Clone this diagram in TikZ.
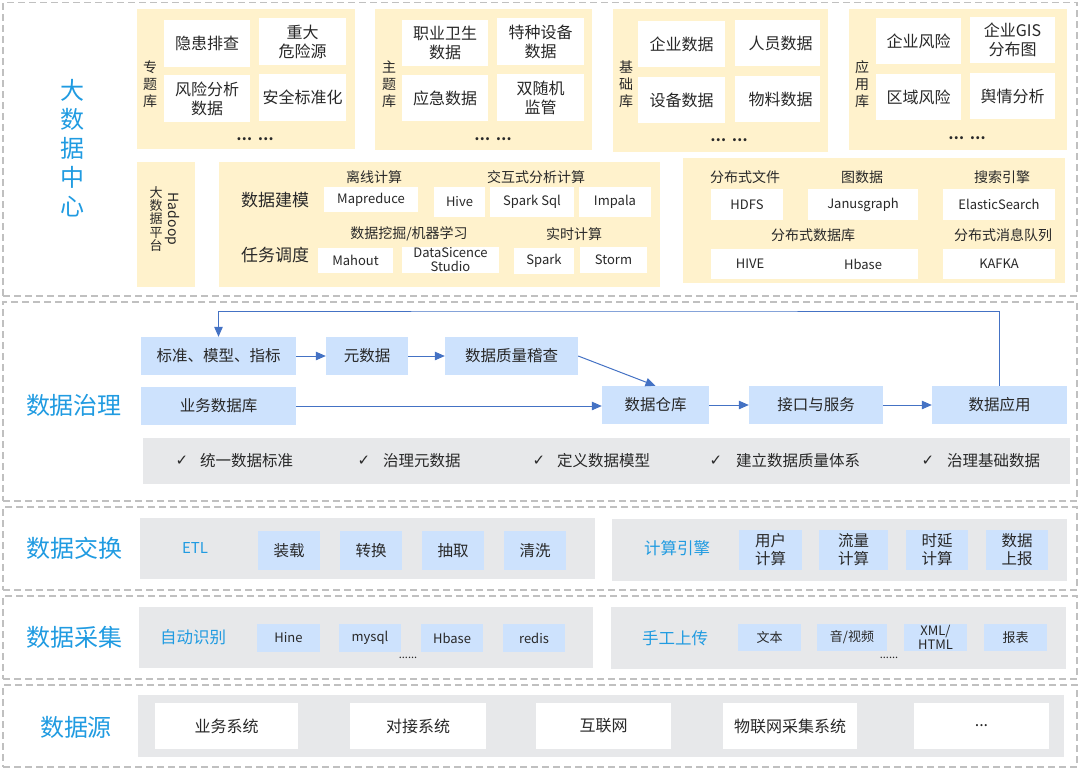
\documentclass[tikz,border=0pt]{standalone}
\usepackage{fontspec}
\setmainfont{Noto Sans CJK SC}
\newfontfamily\symfont{DejaVu Sans}
\usetikzlibrary{arrows.meta}

\definecolor{titleblue}{RGB}{32,155,225}
\definecolor{panelyellow}{RGB}{255,242,204}
\definecolor{panelgray}{RGB}{231,232,234}
\definecolor{boxblue}{RGB}{205,226,253}
\definecolor{arrowblue}{RGB}{68,114,196}
\definecolor{dashgray}{RGB}{192,192,192}
\definecolor{textdark}{RGB}{40,40,40}

\newcommand\fs[2]{\fontsize{#1}{#2}\selectfont}
% box by corners: name, style, x1, y1, x2, y2, text
\newcommand\bx[7]{\node[#2, minimum width={(#5-#3)*1pt}, minimum height={(#6-#4)*1pt}] (#1) at ({(#3+#5)/2},{(#4+#6)/2}) {#7};}

\tikzset{
  layerframe/.style={draw=dashgray, line width=1.2pt, dash pattern=on 7pt off 4pt, inner sep=0pt},
  yel/.style={fill=panelyellow, inner sep=0pt},
  gry/.style={fill=panelgray, inner sep=0pt},
  wbox/.style={fill=white, inner sep=0pt, align=center, text=textdark, font=\fs{16}{19}},
  sbox/.style={fill=white, inner sep=0pt, align=center, text=textdark, font=\fs{13}{14}},
  bbox/.style={fill=boxblue, inner sep=0pt, align=center, text=textdark, font=\fs{15.5}{18}},
  sbbox/.style={fill=boxblue, inner sep=0pt, align=center, text=textdark, font=\fs{13}{14}},
  lbl/.style={inner sep=0pt, align=center, text=textdark, font=\fs{14}{17}},
  midlbl/.style={inner sep=0pt, align=center, text=textdark, font=\fs{17}{19}},
  layer/.style={inner sep=0pt, align=center, text=titleblue, font=\fs{24}{29}},
  sublayer/.style={inner sep=0pt, align=center, text=titleblue, font=\fs{16.5}{19}},
  chk/.style={inner sep=0pt, text=textdark, font=\symfont\fs{15}{16}},
  chktext/.style={inner sep=0pt, anchor=west, text=textdark, font=\fs{15.5}{18}},
  dots/.style={inner sep=0pt, text=textdark, font=\bfseries\fs{14}{16}},
  flow/.style={draw=arrowblue, line width=1pt, -{Triangle[length=10pt,width=8.5pt]}},
}

\begin{document}
\begin{tikzpicture}[x=1pt,y=-1pt]
\useasboundingbox (0,0) rectangle (1080,769);

% ---------- layer frames ----------
\bx{fTop}{layerframe}{3}{2.5}{1077}{296}{}
\bx{fGov}{layerframe}{3}{302}{1077}{501}{}
\bx{fExc}{layerframe}{3}{507}{1077}{590}{}
\bx{fCol}{layerframe}{3}{596}{1077}{679}{}
\bx{fSrc}{layerframe}{3}{685}{1077}{767}{}

% ---------- big data centre ----------
\node[layer] (tBig) at (72,148) {大\\数\\据\\中\\心};

% topic library
\bx{pA}{yel}{137}{9}{355}{149}{}
\node[lbl] (lA) at (150,84) {专\\题\\库};
\bx{a1}{wbox}{164}{20}{250}{67}{隐患排查}
\bx{a2}{wbox}{259}{18}{346}{65}{重大\\危险源}
\bx{a3}{wbox}{164}{75}{250}{122}{风险分析\\数据}
\bx{a4}{wbox}{259}{74}{346}{121}{安全标准化}
\node[dots] (dA) at (255,139) {…\hspace{6pt}…};

% subject library
\bx{pB}{yel}{375}{9}{592}{150}{}
\node[lbl] (lB) at (389,84) {主\\题\\库};
\bx{b1}{wbox}{402}{20}{488}{66}{职业卫生\\数据}
\bx{b2}{wbox}{497}{18}{584}{65}{特种设备\\数据}
\bx{b3}{wbox}{402}{75}{488}{121}{应急数据}
\bx{b4}{wbox}{497}{74}{584}{121}{双随机\\监管}
\node[dots] (dB) at (493,139) {…\hspace{6pt}…};

% base library
\bx{pC}{yel}{613}{9}{828}{152}{}
\node[lbl] (lC) at (626,84) {基\\础\\库};
\bx{c1}{wbox}{638}{21}{725}{67}{企业数据}
\bx{c2}{wbox}{735}{20}{820}{66}{\hspace*{6pt}人员数据}
\bx{c3}{wbox}{638}{77}{725}{123}{设备数据}
\bx{c4}{wbox}{735}{76}{820}{122}{\hspace*{6pt}物料数据}
\node[dots] (dC) at (729,140) {…\hspace{6pt}…};

% application library
\bx{pD}{yel}{849}{9}{1067}{150}{}
\node[lbl] (lD) at (862,84) {应\\用\\库};
\bx{d1}{wbox}{876}{18}{961}{64}{企业风险}
\bx{d2}{wbox}{970}{17}{1055}{63}{企业GIS\\分布图}
\bx{d3}{wbox}{876}{74}{961}{120}{区域风险}
\bx{d4}{wbox}{970}{73}{1055}{119}{舆情分析}
\node[dots] (dD) at (967,138) {…\hspace{6pt}…};

% Hadoop platform
\bx{pH}{yel}{137}{162}{195}{287}{}
\node[inner sep=0pt, align=center, text=textdark, font=\fs{13}{13.2}] (lH1) at (156,219) {大\\数\\据\\平\\台};
\node[inner sep=0pt, rotate=-90, text=textdark, font=\fs{14}{16}] (lH2) at (172,219) {Hadoop};

% computing panel
\bx{pE}{yel}{219}{162}{660}{287}{}
\node[midlbl] (mModel) at (275,200) {数据建模};
\node[midlbl] (mSched) at (275,255) {任务调度};
\node[lbl] (gOff) at (374,177) {离线计算};
\node[lbl] (gInt) at (536,177) {交互式分析计算};
\node[lbl] (gMine) at (409,234) {数据挖掘/机器学习};
\node[lbl] (gRt) at (574,234) {实时计算};
\bx{e1}{sbox}{324}{187}{418}{212}{Mapreduce}
\bx{e2}{sbox}{434}{187}{485}{217}{Hive}
\bx{e3}{sbox}{490}{187}{574}{217}{Spark Sql}
\bx{e4}{sbox}{579}{187}{651}{217}{Impala}
\bx{e5}{sbox}{318}{248}{393}{273}{Mahout}
\bx{e6}{sbox}{402}{247}{499}{273}{DataSicence\\Studio}
\bx{e7}{sbox}{514}{248}{574}{274}{Spark}
\bx{e8}{sbox}{580}{247}{647}{273}{Storm}

% storage panel
\bx{pF}{yel}{683}{158}{1065}{283}{}
\node[lbl] (gFile) at (745,177) {分布式文件};
\node[lbl] (gGraph) at (862,177) {图数据};
\node[lbl] (gSearch) at (1002,177) {搜索引擎};
\node[lbl] (gDb) at (813,235) {分布式数据库};
\node[lbl] (gMq) at (1003,235) {分布式消息队列};
\bx{f1}{sbox}{711}{189}{783}{220}{HDFS}
\bx{f2}{sbox}{808}{189}{918}{220}{Janusgraph}
\bx{f3}{sbox}{943}{189}{1055}{220}{ElasticSearch}
\bx{f4}{sbox}{711}{249}{918}{279}{}
\node[inner sep=0pt, text=textdark, font=\fs{13}{14}] (f4a) at (750,264) {HIVE};
\node[inner sep=0pt, text=textdark, font=\fs{13}{14}] (f4b) at (863,264) {Hbase};
\bx{f5}{sbox}{943}{249}{1055}{279}{KAFKA}

% ---------- data governance ----------
\node[layer] (tGov) at (74,405) {数据治理};
\bx{std}{bbox}{141}{337}{296}{375}{标准、模型、指标}
\bx{meta}{bbox}{326}{337}{408}{375}{元数据}
\bx{qual}{bbox}{445}{337}{578}{375}{数据质量稽查}
\bx{biz}{bbox}{141}{387}{296}{425}{业务数据库}
\bx{wh}{bbox}{602}{386}{709}{424}{数据仓库}
\bx{api}{bbox}{749}{386}{883}{424}{接口与服务}
\bx{app}{bbox}{932}{386}{1067}{424}{数据应用}

\draw[flow] (std.east) -- (meta.west);
\draw[flow] (meta.east) -- (qual.west);
\draw[flow] (qual.east) -- (wh.north);
\draw[flow] (biz.east) -- (biz.east -| wh.west);
\draw[flow] (wh.east) -- (api.west);
\draw[flow] (api.east) -- (app.west);
\coordinate (fbTop) at (600,311);
\draw[flow] (app.north) |- (fbTop) -| (std.north);

\bx{gBand}{gry}{143}{438}{1070}{484}{}
\node[chk] (ck1) at (182,461) {✓};
\node[chktext] (ct1) at (200,461) {统一数据标准};
\node[chk] (ck2) at (364,461) {✓};
\node[chktext] (ct2) at (383,461) {治理元数据};
\node[chk] (ck3) at (539,461) {✓};
\node[chktext] (ct3) at (557,461) {定义数据模型};
\node[chk] (ck4) at (716,461) {✓};
\node[chktext] (ct4) at (736,461) {建立数据质量体系};
\node[chk] (ck5) at (928,461) {✓};
\node[chktext] (ct5) at (947,461) {治理基础数据};

% ---------- data exchange ----------
\node[layer] (tExc) at (75,548) {数据交换};
\bx{xL}{gry}{140}{518}{595}{579}{}
\node[sublayer, font=\fs{15}{18}] (xEtl) at (195,548) {ETL};
\bx{x1}{bbox}{258}{531}{320}{570}{装载}
\bx{x2}{bbox}{340}{531}{402}{570}{转换}
\bx{x3}{bbox}{422}{531}{484}{570}{抽取}
\bx{x4}{bbox}{504}{531}{566}{570}{清洗}
\bx{xR}{gry}{612}{519}{1067}{581}{}
\node[sublayer] (xEng) at (677,548) {计算引擎};
\bx{x5}{bbox}{739}{530}{802}{570}{用户\\计算}
\bx{x6}{bbox}{819}{530}{888}{570}{流量\\计算}
\bx{x7}{bbox}{906}{530}{968}{570}{时延\\计算}
\bx{x8}{bbox}{986}{530}{1048}{570}{数据\\上报}

% ---------- data collection ----------
\node[layer] (tCol) at (75,637) {数据采集};
\bx{cL}{gry}{139}{607}{593}{668}{}
\node[sublayer] (cAuto) at (193,637) {自动识别};
\bx{k1}{sbbox}{257}{624}{320}{652}{Hine}
\bx{k2}{sbbox}{339}{624}{401}{652}{mysql}
\bx{k3}{sbbox}{421}{624}{483}{652}{Hbase}
\bx{k4}{sbbox}{503}{624}{565}{652}{redis}
\node[inner sep=0pt, text=textdark, font=\fs{11}{12}] (kDots) at (408,658) {......};
\bx{cR}{gry}{611}{607}{1066}{669}{}
\node[sublayer] (cHand) at (675,638) {手工上传};
\bx{k5}{sbbox}{738}{624}{801}{651}{文本}
\bx{k6}{sbbox}{817}{624}{887}{651}{音/视频}
\bx{k7}{sbbox}{904}{624}{967}{651}{XML/\\HTML}
\bx{k8}{sbbox}{984}{624}{1047}{651}{报表}
\node[inner sep=0pt, text=textdark, font=\fs{11}{12}] (kDots2) at (889,658) {......};

% ---------- data sources ----------
\node[layer] (tSrc) at (76,727) {数据源};
\bx{sP}{gry}{138}{695}{1064}{757}{}
\bx{s1}{wbox}{155}{703}{298}{749}{业务系统}
\bx{s2}{wbox}{350}{703}{486}{749}{对接系统}
\bx{s3}{wbox}{536}{703}{671}{749}{互联网}
\bx{s4}{wbox}{723}{703}{857}{749}{物联网采集系统}
\bx{s5}{wbox}{914}{703}{1049}{749}{...}
\end{tikzpicture}
\end{document}
